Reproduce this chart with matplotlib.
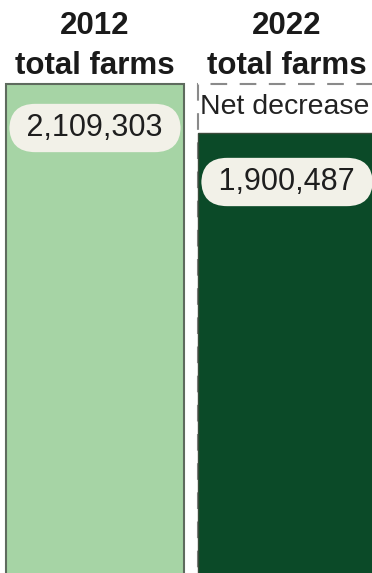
import numpy as np
import matplotlib.pyplot as plt

# farm counts
years = ["2012", "2022"]
farms = [2109303, 1900487]
headers = ["2012\ntotal farms", "2022\ntotal farms"]
note = "Net decrease"

plt.rcParams["font.family"] = ["Liberation Sans", "DejaVu Sans"]

fig = plt.figure(figsize=(3.72, 5.73), dpi=100)
ax = fig.add_axes([0, 0, 1, 1])

# vertical scale: ~4262 farms per pixel, so the baseline sits just below the image
per_px = (farms[0] - farms[1]) / 49.0
ax.set_ylim(farms[0] - 489 * per_px, farms[0] + 84 * per_px)
ax.set_xlim(-95 / 192.0, 277 / 192.0)
ax.axis("off")

x = np.arange(len(years))
w = 178 / 192.0

# dashed outline showing where the 2022 bar would be at 2012 level
ax.bar(x[1], farms[0], width=w, fill=False, edgecolor="#8a8a8a",
       linewidth=1.5, linestyle=(0, (8, 6)), zorder=1)
ax.bar(x[0], farms[0], width=w, color="#a6d4a5", edgecolor="#5e6b5e",
       linewidth=1.5, zorder=2)
ax.bar(x[1], farms[1], width=w, color="#0b4a28", edgecolor="#3a4a3a",
       linewidth=1.0, zorder=2)

for i, h in enumerate(headers):
    ax.annotate(h, xy=(x[i], farms[0]), xytext=(0, 3), textcoords="offset pixels",
                ha="center", va="bottom", fontsize=22.5, fontweight="bold",
                color="#1a1a1a", linespacing=1.42)

offsets = [-44, -49]
for i, v in enumerate(farms):
    ax.annotate(" " + f"{v:,}" + " ", xy=(x[i], v), xytext=(0, offsets[i]),
                textcoords="offset pixels", ha="center", va="center",
                fontsize=22, color="#1e1e1e", zorder=5,
                bbox=dict(boxstyle="round,pad=0.3,rounding_size=0.85",
                          facecolor="#f2f1e8", edgecolor="none"))

ax.annotate(note, xy=(x[1] - w / 2, (farms[0] + farms[1]) / 2), xytext=(2, 2),
            textcoords="offset pixels", ha="left", va="center",
            fontsize=20.5, color="#222222", zorder=5)

fig.savefig("out.png", dpi=100, facecolor="white")
